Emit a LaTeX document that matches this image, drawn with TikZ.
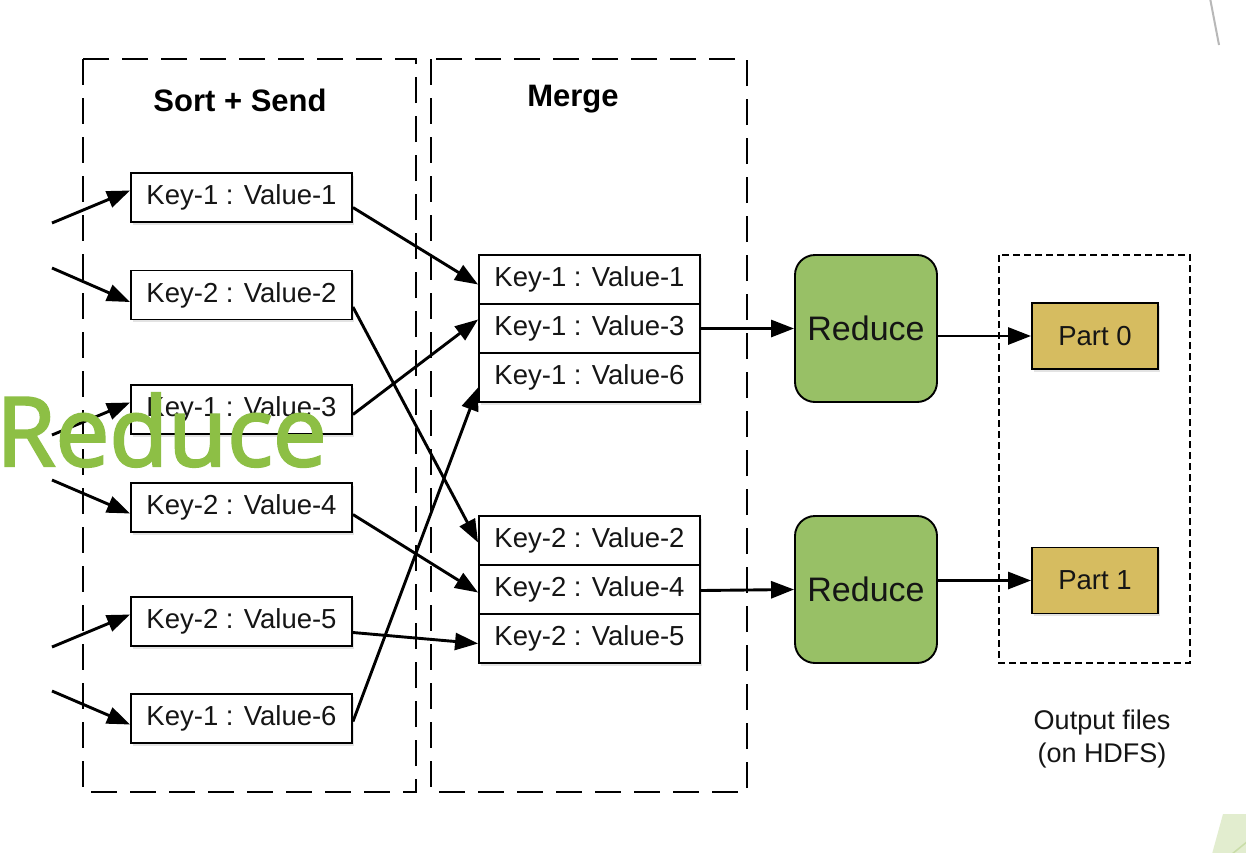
\documentclass[tikz,border=0pt]{standalone}
\usepackage{fontspec}
\setmainfont{Liberation Sans}
\newfontfamily\ovfont[FakeBold=2.5]{Open Sans}
\usetikzlibrary{arrows.meta,shadows,calc}
\definecolor{redgreen}{HTML}{98C066}
\definecolor{partgold}{HTML}{D6BC60}
\definecolor{ovgreen}{HTML}{8DBF45}
\definecolor{decogreen}{HTML}{E2EDCF}
\definecolor{decoline}{HTML}{C9DDA8}
\definecolor{txt}{HTML}{151515}
\begin{document}
\begin{tikzpicture}[x=1pt,y=-1pt,
  shad/.style={drop shadow={shadow xshift=1.5pt,shadow yshift=-2.5pt,opacity=0.22}},
  kv/.style={draw,line width=1.9pt,fill=white,minimum width=221pt,minimum height=49pt,inner sep=0pt,
    text=txt,font=\fontsize{27.5}{32}\selectfont,shad},
  redbox/.style={draw,line width=1.9pt,fill=redgreen,rounded corners=20pt,minimum width=142pt,
    minimum height=147pt,inner sep=0pt,text=txt,font=\fontsize{34}{40}\selectfont},
  partbox/.style={draw,line width=1.9pt,fill=partgold,minimum width=126pt,minimum height=66pt,
    inner sep=0pt,text=txt,font=\fontsize{27.5}{32}\selectfont,shad},
  bigdash/.style={draw,line width=2pt,dash pattern=on 26pt off 13pt},
  smalldash/.style={draw,line width=1.8pt,dash pattern=on 7pt off 4pt},
  title/.style={anchor=base,inner sep=0pt,font=\fontsize{31}{36}\selectfont\bfseries},
  conn/.style={line width=2.9pt,-{Triangle[length=23pt,width=17pt]}}]
\useasboundingbox (0,0) rectangle (1246,852);
\fill[white] (0,0) rectangle (1246,852);

% stage frames
\draw[bigdash] (83,59) rectangle (416,792);
\draw[bigdash] (431,59) rectangle (747,792);
\draw[smalldash] (999,255) rectangle (1190,663);

\node[title] (tsort) at (240,111) {Sort + Send};
\node[title] (tmerge) at (573,106) {Merge};

% sort + send boxes
\node[kv] (k1) at (241.5,197.5) {Key-1 : Value-1};
\node[kv] (k2) at (241.5,295) {Key-2 : Value-2};
\node[kv] (k3) at (241.5,409.5) {Key-1 : Value-3};
\node[kv] (k4) at (241.5,507.5) {Key-2 : Value-4};
\node[kv] (k5) at (241.5,621.5) {Key-2 : Value-5};
\node[kv] (k6) at (241.5,718.5) {Key-1 : Value-6};

% merge stacks
\node[kv] (m11) at (589.5,279.5) {Key-1 : Value-1};
\node[kv] (m13) at (589.5,328.5) {Key-1 : Value-3};
\node[kv] (m16) at (589.5,377.5) {Key-1 : Value-6};
\node[kv] (m22) at (589.5,540.5) {Key-2 : Value-2};
\node[kv] (m24) at (589.5,589.5) {Key-2 : Value-4};
\node[kv] (m25) at (589.5,638.5) {Key-2 : Value-5};

% reducers and parts
\node[redbox] (r1) at (866,328.5) {Reduce};
\node[redbox] (r2) at (866,589.5) {Reduce};
\node[partbox] (p0) at (1095,336) {Part 0};
\node[partbox] (p1) at (1095,580.5) {Part 1};

\node[anchor=base,align=center,inner sep=0pt,text=txt,font=\fontsize{27}{33}\selectfont] (outl) at (1102,762) {Output files\\(on HDFS)};

% input arrows
\coordinate (in1) at (52,223);
\coordinate (in2) at (52,268);
\coordinate (in3) at (52,435);
\coordinate (in4) at (52,480);
\coordinate (in5) at (52,647);
\coordinate (in6) at (52,691);
\draw[conn] (in1) -- ($(k1.west)+(0,-7)$);
\draw[conn] (in2) -- ($(k2.west)+(0,7)$);
\draw[conn] (in3) -- ($(k3.west)+(0,-7)$);
\draw[conn] (in4) -- ($(k4.west)+(0,6)$);
\draw[conn] (in5) -- ($(k5.west)+(0,-7)$);
\draw[conn] (in6) -- ($(k6.west)+(0,6)$);

% shuffle
\draw[conn] ($(k1.east)+(0,10)$) -- ($(m11.west)+(0,5)$);
\draw[conn] ($(k2.east)+(0,12)$) -- ($(m22.west)+(0,2)$);
\draw[conn] ($(k3.east)+(0,5)$) -- ($(m13.west)+(0,-9)$);
\draw[conn] ($(k4.east)+(0,7)$) -- ($(m24.west)+(0,3)$);
\draw[conn] ($(k5.east)+(0,11)$) -- ($(m25.west)+(0,5)$);
\draw[conn] ($(k6.east)+(0,3)$) -- ($(m16.west)+(0,10)$);

% merge to reduce, reduce to parts
\draw[conn] (m13.east) -- (r1.west);
\draw[conn] ($(m24.east)+(0,1)$) -- (r2.west);
\draw[conn] ($(r1.east)+(0,7.5)$) -- (p0.west);
\draw[conn] ($(r2.east)+(0,-9)$) -- (p1.west);

% slide decorations
\draw[black!28,line width=2pt] (1210,-2) -- (1219,45);
\fill[decogreen] (1223,814) -- (1248,814) -- (1248,854) -- (1212,854) -- cycle;
\draw[decoline,line width=1.5pt] (1232,854) -- (1248,841);

% overlay title
\node[anchor=base west,inner sep=0pt,text=ovgreen,font=\ovfont\fontsize{96}{110}\selectfont] (ov) at (-4,466) {Reduce};
\end{tikzpicture}
\end{document}
